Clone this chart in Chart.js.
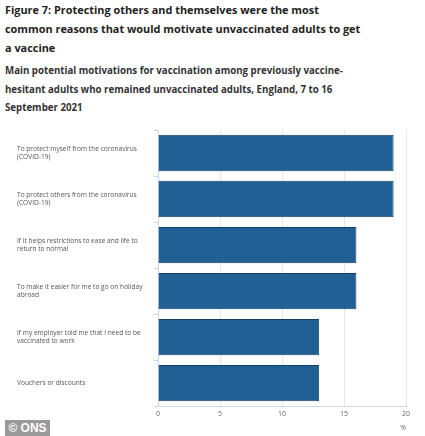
<!DOCTYPE html>
<html>
<head>
<meta charset="utf-8">
<script src="https://cdn.jsdelivr.net/npm/chart.js@4.4.0/dist/chart.umd.min.js"></script>
<style>
  body { margin: 0; width: 425px; height: 436px; background: #fff; font-family: "Open Sans", sans-serif; position: relative; overflow: hidden; }
  #title { position: absolute; left: 5px; top: 0px; width: 420px; font-size: 10.9px; font-weight: 700; line-height: 19px; color: #222; white-space: nowrap; }
  #sub { position: absolute; left: 5px; top: 62px; width: 420px; font-size: 9.7px; font-weight: 700; line-height: 18.5px; color: #333; white-space: nowrap; }
  #wrap { position: absolute; left: 0; top: 118px; width: 425px; height: 318px; }
  #ons { position: absolute; left: 5px; top: 420px; width: 45px; height: 16px; background: #9a9a9a; color: #fff; font-family: "Liberation Sans", Arial, sans-serif; font-weight: 700; font-size: 12px; line-height: 16px; text-align: center; }
</style>
</head>
<body>
<div id="title">Figure 7: Protecting others and themselves were the most<br>common reasons that would motivate unvaccinated adults to get<br>a vaccine</div>
<div id="sub">Main potential motivations for vaccination among previously vaccine-<br>hesitant adults who remained unvaccinated adults, England, 7 to 16<br>September 2021</div>
<div id="wrap"><canvas id="chart"></canvas></div>
<div id="ons">© ONS</div>
<script>
  // Categories (already split into the lines they wrap to)
  var reasons = [
    ["To protect myself from the coronavirus", "(COVID-19)"],
    ["To protect others from the coronavirus", "(COVID-19)"],
    ["If it helps restrictions to ease and life to", "return to normal"],
    ["To make it easier for me to go on holiday", "abroad"],
    ["If my employer told me that I need to be", "vaccinated to work"],
    ["Vouchers or discounts"]
  ];
  // Percent of adults
  var percents = [19, 19, 16, 16, 13, 13];
  var xTicks = [0, 5, 10, 15, 20];

  var ctx = document.getElementById("chart").getContext('2d');
  var chart = new Chart(ctx, {
    type: 'bar',
    data: {
      labels: reasons,
      datasets: [{
        label: 'Motivations',
        backgroundColor: '#206095',
        borderColor: '#173f66',
        borderWidth: 1,
        barPercentage: 0.79,
        categoryPercentage: 1,
        data: percents
      }]
    },
    options: {
      indexAxis: 'y',
      responsive: true,
      maintainAspectRatio: false,
      animation: false,
      layout: { padding: { left: 17, top: 12, right: 19, bottom: 4 } },
      plugins: { legend: { display: false }, tooltip: { enabled: false } },
      scales: {
        x: {
          min: xTicks[0],
          max: xTicks[xTicks.length - 1],
          ticks: { stepSize: 5, color: '#666', font: { family: 'Open Sans', size: 7 }, padding: 4 },
          grid: { color: '#e6e6e6', drawTicks: false },
          border: { color: '#ccd6eb' },
          title: { display: true, text: '%', align: 'end', color: '#666', font: { family: 'Open Sans', size: 7 }, padding: { top: 1, bottom: 0 } }
        },
        y: {
          afterFit: function(scale) { scale.width = 141; },
          ticks: { crossAlign: 'far', color: '#555', font: { family: 'Open Sans', size: 6.6 }, autoSkip: false },
          grid: { drawOnChartArea: false, drawTicks: true, tickLength: 4, color: '#ccd6eb' },
          border: { color: '#ccd6eb' }
        }
      }
    }
  });
</script>
</body>
</html>
